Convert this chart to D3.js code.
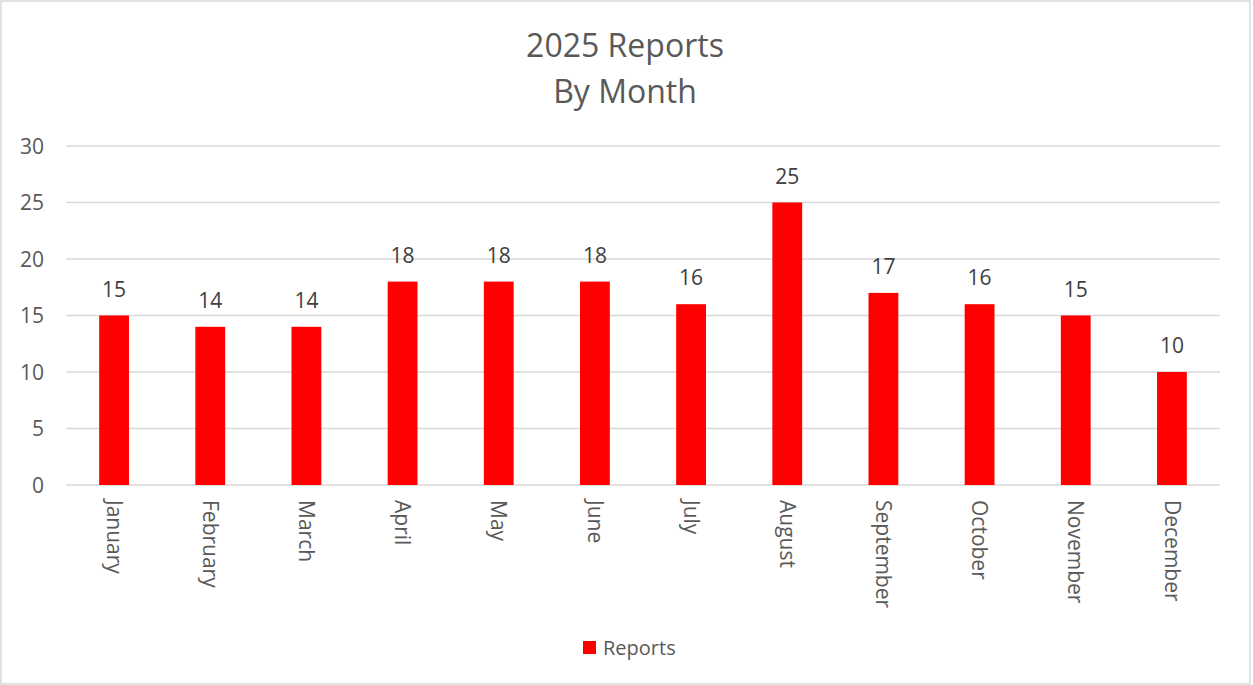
<!DOCTYPE html>
<html>
<head>
<meta charset="utf-8">
<script src="https://cdn.jsdelivr.net/npm/d3@7"></script>
<style>
  body { margin: 0; background: #fff; }
  svg text { font-family: "Open Sans", "Liberation Sans", sans-serif; }
</style>
</head>
<body>
<div id="chart"></div>
<script>
// chart data
var months = ["January", "February", "March", "April", "May", "June",
              "July", "August", "September", "October", "November", "December"];
var reports = [15, 14, 14, 18, 18, 18, 16, 25, 17, 16, 15, 10];
var yTicks = [0, 5, 10, 15, 20, 25, 30];
var titleLines = ["2025 Reports", "By Month"];
var seriesName = "Reports";

var width = 1253, height = 685;
var margin = {top: 146, right: 33, bottom: 200, left: 66};

var svg = d3.select("#chart").append("svg")
    .attr("width", width)
    .attr("height", height);

// outer border
svg.append("rect")
    .attr("x", 1).attr("y", 1)
    .attr("width", width - 4).attr("height", height - 2)
    .attr("fill", "#fff")
    .attr("stroke", "#d9d9d9")
    .attr("stroke-width", 1.5);

var x = d3.scaleBand()
    .domain(months)
    .range([margin.left, width - margin.right])
    .paddingInner(0.69)
    .paddingOuter(0.345);

var y = d3.scaleLinear()
    .domain([0, 30])
    .range([height - margin.bottom, margin.top]);

// title
svg.selectAll(".title")
    .data(titleLines)
  .enter().append("text")
    .attr("class", "title")
    .attr("x", (margin.left + width - margin.right) / 2 - 18)
    .attr("y", function(d, i) { return 57 + i * 46; })
    .attr("text-anchor", "middle")
    .attr("fill", "#595959")
    .style("font-size", "32px")
    .text(function(d) { return d; });

// gridlines
svg.append("g")
    .selectAll("line")
    .data(yTicks)
  .enter().append("line")
    .attr("x1", margin.left)
    .attr("x2", width - margin.right)
    .attr("y1", function(d) { return y(d); })
    .attr("y2", function(d) { return y(d); })
    .attr("stroke", "#d9d9d9")
    .attr("stroke-width", 1.5);

// y axis labels
var yAxis = d3.axisLeft(y).tickValues(yTicks).tickSize(0).tickPadding(0);
var yg = svg.append("g")
    .attr("transform", "translate(44,0)")
    .call(yAxis);
yg.select(".domain").remove();
yg.selectAll("text")
    .attr("fill", "#595959")
    .attr("dy", "0.35em")
    .style("font-size", "21px");

// bars
svg.append("g")
    .selectAll("rect")
    .data(reports)
  .enter().append("rect")
    .attr("x", function(d, i) { return x(months[i]); })
    .attr("y", function(d) { return y(d); })
    .attr("width", x.bandwidth())
    .attr("height", function(d) { return y(0) - y(d); })
    .attr("fill", "#ff0000");

// data labels
svg.append("g")
    .selectAll("text")
    .data(reports)
  .enter().append("text")
    .attr("x", function(d, i) { return x(months[i]) + x.bandwidth() / 2; })
    .attr("y", function(d) { return y(d) - 19; })
    .attr("text-anchor", "middle")
    .attr("fill", "#404040")
    .style("font-size", "21px")
    .text(function(d) { return d; });

// month labels, rotated
svg.append("g")
    .selectAll("text")
    .data(months)
  .enter().append("text")
    .attr("transform", function(d) {
      return "translate(" + (x(d) + x.bandwidth() / 2) + ",500) rotate(90)";
    })
    .attr("text-anchor", "start")
    .attr("dy", "0.35em")
    .attr("fill", "#595959")
    .style("font-size", "21px")
    .text(function(d) { return d; });

// legend
var legend = svg.append("g").attr("transform", "translate(583,641)");
legend.append("rect")
    .attr("width", 13).attr("height", 13)
    .attr("fill", "#ff0000");
legend.append("text")
    .attr("x", 20).attr("y", 14)
    .attr("fill", "#595959")
    .style("font-size", "20px")
    .text(seriesName);
</script>
</body>
</html>
